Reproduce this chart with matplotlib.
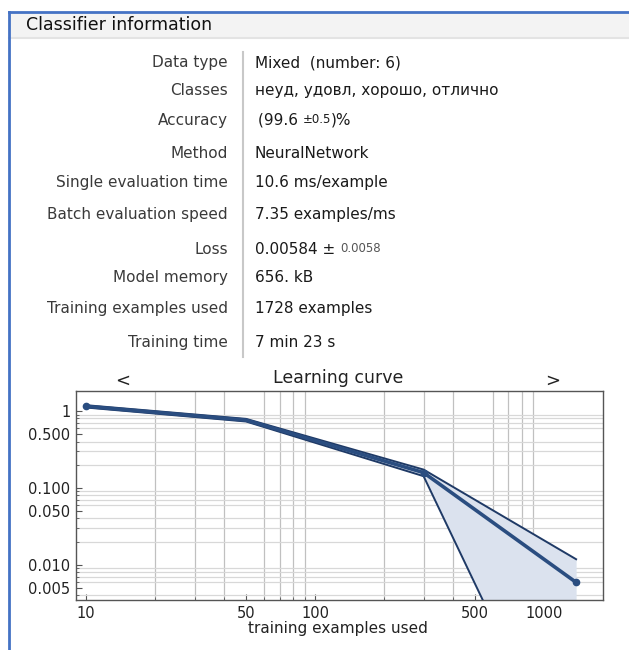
import matplotlib
matplotlib.use('Agg')
import matplotlib.pyplot as plt
import numpy as np
from matplotlib.ticker import FixedLocator, FixedFormatter, NullFormatter, LogLocator

# info panel
info_labels = ['Data type', 'Classes', 'Accuracy', 'Method', 'Single evaluation time',
               'Batch evaluation speed', 'Loss', 'Model memory', 'Training examples used',
               'Training time']
info_values = ['Mixed  (number: 6)', 'неуд, удовл, хорошо, отлично', None, 'NeuralNetwork',
               '10.6 ms/example', '7.35 examples/ms', None, '656. kB', '1728 examples',
               '7 min 23 s']
row_y = [62.7, 90.7, 120, 153, 182.3, 215, 249, 277.7, 308.3, 342.3]

# learning curve
train_sizes = [10, 50, 298, 1382]
loss_mean = [1.15, 0.76, 0.158, 0.0059]
loss_upper = [1.19, 0.79, 0.173, 0.0118]
loss_lower = [1.11, 0.73, 0.142, 0.00001]

x_ticks = [10, 50, 100, 500, 1000]
y_ticks = [1, 0.5, 0.1, 0.05, 0.01, 0.005]
y_tick_labels = ['1', '0.500', '0.100', '0.050', '0.010', '0.005']

W, H = 629, 650
fig = plt.figure(figsize=(W / 100, H / 100), dpi=100)
fig.patch.set_facecolor('white')

bg = fig.add_axes([0, 0, 1, 1])
bg.set_xlim(0, W)
bg.set_ylim(H, 0)
bg.axis('off')

ff = 'DejaVu Sans'

# window frame + header
bg.add_patch(plt.Rectangle((9, 12), W - 9, 25, facecolor='#f3f3f3', edgecolor='none'))
bg.plot([9, W], [37.5, 37.5], color='#e3e3e3', lw=1.5)
bg.plot([8.5, W], [11.5, 11.5], color='#4472c4', lw=2)
bg.plot([8.5, 8.5], [11.5, H], color='#4472c4', lw=2)
bg.text(26, 25.5, 'Classifier information', fontsize=12.5, family=ff,
        color='#111111', va='center', ha='left')

# info rows
bg.plot([243, 243], [52, 357], color='#c8c8c8', lw=1.5)
tf = dict(family=ff, fontsize=11, va='center')
for lab, val, y in zip(info_labels, info_values, row_y):
    bg.text(228, y, lab, ha='right', color='#3a3a3a', **tf)
    if val is not None:
        bg.text(255, y, val, ha='left', color='#1a1a1a', **tf)

t1 = bg.text(258, row_y[2], '(99.6 ', ha='left', color='#1a1a1a', **tf)
t2 = bg.annotate('±0.5', xy=(1, 0.12), xycoords=t1, fontsize=8.5, family=ff,
                 color='#1a1a1a', va='bottom', ha='left')
bg.annotate(')%', xy=(1, -0.14), xycoords=t2, fontsize=11, family=ff,
            color='#1a1a1a', va='bottom', ha='left')
t3 = bg.text(255, row_y[6], '0.00584 ± ', ha='left', color='#1a1a1a', **tf)
bg.annotate('0.0058', xy=(1, 0.12), xycoords=t3, fontsize=8.5, family=ff,
            color='#555555', va='bottom', ha='left')

# plot titles
bg.text(338, 378, 'Learning curve', ha='center', va='center', fontsize=12.5, family=ff,
        color='#222222')
bg.text(123, 381, '<', ha='center', va='center', fontsize=13, family=ff, color='#222222')
bg.text(553, 381, '>', ha='center', va='center', fontsize=13, family=ff, color='#222222')
bg.text(338, 629, 'training examples used', ha='center', va='center', fontsize=11,
        family=ff, color='#222222')

# learning curve axes
left, right, top, bottom = 76, 603, 391, 600
ax = fig.add_axes([left / W, 1 - bottom / H, (right - left) / W, (bottom - top) / H])
ax.set_xscale('log')
ax.set_yscale('log')
ax.set_xlim(9.04, 1811)
ax.set_ylim(0.00348, 1.82)

ax.fill_between(train_sizes, loss_lower, loss_upper, color='#dbe2ee', lw=0, zorder=2)
ax.plot(train_sizes, loss_upper, color='#1f3a66', lw=1.4, zorder=3)
ax.plot(train_sizes, loss_lower, color='#1f3a66', lw=1.4, zorder=3)
ax.plot(train_sizes, loss_mean, color='#2a4d80', lw=2.6, zorder=4,
        marker='o', ms=4.5, markevery=[0, 2, 3])

ax.xaxis.set_major_locator(FixedLocator(x_ticks))
ax.xaxis.set_major_formatter(FixedFormatter([str(v) for v in x_ticks]))
ax.xaxis.set_minor_locator(LogLocator(base=10, subs=np.arange(1, 10), numticks=20))
ax.xaxis.set_minor_formatter(NullFormatter())
ax.yaxis.set_major_locator(FixedLocator(y_ticks))
ax.yaxis.set_major_formatter(FixedFormatter(y_tick_labels))
ax.yaxis.set_minor_locator(LogLocator(base=10, subs=np.arange(1, 10), numticks=20))
ax.yaxis.set_minor_formatter(NullFormatter())

ax.xaxis.grid(True, which='minor', color='#c0c0c0', lw=0.9, zorder=0)
ax.yaxis.grid(True, which='minor', color='#d8d8d8', lw=0.9, zorder=0)
ax.set_axisbelow(True)

ax.tick_params(which='both', direction='in', top=False, right=False, colors='#555555',
               labelcolor='#222222', labelsize=10.5)
ax.tick_params(which='major', length=4, width=0.8, pad=4)
ax.tick_params(which='minor', length=2.5, width=0.6)
for lbl in ax.get_xticklabels() + ax.get_yticklabels():
    lbl.set_family(ff)
for sp in ax.spines.values():
    sp.set_color('#555555')
    sp.set_linewidth(1)

plt.savefig('out.png', dpi=100)
